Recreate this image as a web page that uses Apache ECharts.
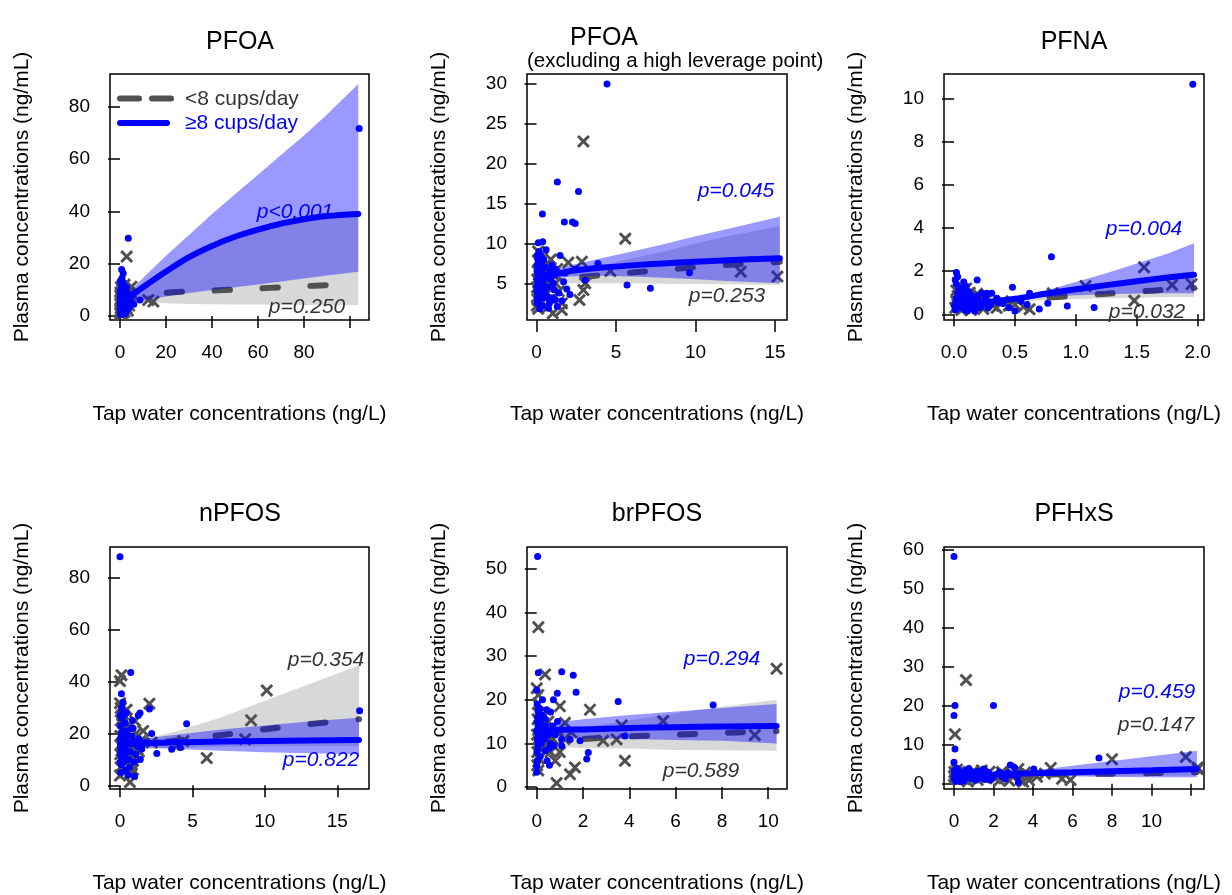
<!DOCTYPE html>
<html><head><meta charset="utf-8">
<script src="https://cdn.jsdelivr.net/npm/echarts@6/dist/echarts.min.js"></script>
<style>html,body{margin:0;padding:0;background:#fff}#c{width:1232px;height:895px}</style>
</head><body><div id="c"></div>
<script>
// ---------------- DATA ----------------
const panelTitles = ['PFOA', 'PFOA', 'PFNA', 'nPFOS', 'brPFOS', 'PFHxS'];
const subTitle2 = '(excluding a high leverage point)';
const xAxisTitle = 'Tap water concentrations (ng/L)';
const yAxisTitle = 'Plasma concentrations (ng/mL)';
const legendNames = ['<8 cups/day', '\u22658 cups/day'];
const pHigh = ['p<0.001', 'p=0.045', 'p=0.004', 'p=0.822', 'p=0.294', 'p=0.459'];
const pLow  = ['p=0.250', 'p=0.253', 'p=0.032', 'p=0.354', 'p=0.589', 'p=0.147'];

// tick values
const pfoaXTicks = [0, 20, 40, 60, 80, 100];
const pfoaXLabels = [0, 20, 40, 60, 80];
const pfoaYTicks = [0, 20, 40, 60, 80];
const pfoaExXTicks = [0, 5, 10, 15];
const pfoaExYTicks = [5, 10, 15, 20, 25, 30];
const pfnaXTicks = [0, 0.5, 1, 1.5, 2];
const pfnaYTicks = [0, 2, 4, 6, 8, 10];
const npfosXTicks = [0, 5, 10, 15];
const npfosYTicks = [0, 20, 40, 60, 80];
const brpfosXTicks = [0, 2, 4, 6, 8, 10];
const brpfosYTicks = [0, 10, 20, 30, 40, 50];
const pfhxsXTicks = [0, 2, 4, 6, 8, 10, 12];
const pfhxsXLabels = [0, 2, 4, 6, 8, 10];
const pfhxsYTicks = [0, 10, 20, 30, 40, 50, 60];

// ---- Panel 1: PFOA ----
const pfoaHigh = [[104,71.7],[3.6,29.7],[0.7,17.8],[1.4,16.3],[0.2,13.5],[1.4,12.7],[1.1,11.5],[0.5,12],[0.3,10],[1.7,10],[2.8,11],[2.6,9.5],[8.7,6.1],[6,4.5],[5,8],[0.1,2],[0.2,4],[0.3,6],[0.5,3],[0.6,8],[0.8,5],[1,1.5],[1,7],[1.2,9],[1.3,3.5],[1.5,5.5],[2,2.5],[2,6.5],[2.2,8],[2.5,4],[3,5],[3.3,7],[3.8,3],[4.2,6],[0.1,9],[0.7,1],[2.4,1],[0.4,0.5],[1.8,3],[0.9,14.5],[0.4,7.5],[1.6,8.5],
  [0.2,1.2],[0.4,2.5],[0.6,4],[0.8,6.5],[1.0,3],[1.2,5],[1.4,7.5],[1.6,2],[1.8,4.5],[2.0,5.5],[2.3,3.2],[2.6,6.8],[2.9,2.2],[3.2,4.2],[0.3,8.5],[0.5,9.5],[0.9,10.5],[1.3,11.2],[0.1,5],[0.2,7],[0.6,2],[1.1,0.8],[1.5,4.2],[2.1,7.2],[2.7,8.2],[3.5,5.5],[0.3,3.5],[0.7,5.8],[1.9,9.2]];
const pfoaLow = [[2.9,22.7],[5,11.2],[12.3,6.1],[14.5,5.5],[0.7,11.2],[0.1,1],[0.3,3],[0.5,5],[0.7,7],[0.9,2],[1.1,4],[1.3,8],[1.6,6],[1.9,1.5],[2.2,3.5],[2.6,5.5],[3,7.5],[3.4,2],[0.2,9],[0.4,11],[1,10],[4,4],[0.6,0.5],[2,12],[3.8,9],[0.1,6],[0.3,4.5],
  [0.2,2],[0.5,7.8],[0.8,3.5],[1.2,6.2],[1.5,9],[1.8,4.8],[2.4,8.5],[2.8,3],[3.2,5.8],[0.1,8],[0.9,1],[4.5,6.5]];
const pfoaCurveX   = [0.5, 2, 5, 10, 20, 30, 40, 50, 60, 70, 80, 90, 103.6];
const pfoaHighFit  = [3.5, 5.5, 7.8, 11, 17, 22.5, 26.8, 30.3, 33, 35.3, 37, 38.2, 39];
const pfoaHighUp   = [5, 7, 10, 14.5, 23, 31, 39, 46.5, 54, 61.5, 69, 77, 88.7];
const pfoaHighLo   = [3, 4, 4.8, 5.8, 7.5, 8.8, 9.9, 11, 12, 13.2, 14.3, 15.5, 16.9];
const pfoaLowFit   = [4.5, 5.8, 6.8, 7.8, 8.9, 9.4, 9.7, 10.1, 10.5, 11.0, 11.4, 11.8, 12.2];
const pfoaLowUp    = [5, 6.8, 8.5, 11, 16.6, 22, 26.3, 29.8, 32.6, 34.8, 36.5, 37.8, 38.6];
const pfoaLowLo    = [4, 4.9, 5.3, 5.4, 4.9, 4.6, 4.5, 4.4, 4.35, 4.3, 4.25, 4.2, 4.2];

// ---- Panel 2: PFOA excluding high leverage point ----
const pfoaExHigh = [[4.43,30],[1.31,17.7],[2.64,16.5],[0.37,13.7],[1.75,12.7],[2.26,12.7],[2.43,12.5],[0.11,10.1],[0.39,10.2],[1.48,8.5],[3.86,7.5],[9.62,6.34],[3.06,5.4],[5.69,4.8],[7.16,4.37],[0.75,1.87],
  [0.05,2.5],[0.1,3.5],[0.15,4.5],[0.2,5.5],[0.25,6.5],[0.3,7.5],[0.05,8.5],[0.1,6],[0.2,3],[0.3,4],[0.4,5],[0.5,6],[0.6,3.5],[0.7,4.5],[0.8,2.5],[0.9,5.5],[1.0,3.2],[1.1,4.2],[1.2,6.8],[1.4,3.8],[1.6,2.8],[1.7,5.2],[1.9,4.3],[2.1,3.6],[0.05,7.2],[0.15,9],[0.45,8],[0.6,9.2],[0.2,1.8],[0.35,2.2],[1.3,2.1],[1.8,6.3],[2.5,6.8],[0.95,7.3],
  [0.02,4],[0.03,5.5],[0.04,6.5],[0.08,4.8],[0.12,7.8],[0.18,6.2],[0.22,4],[0.28,5],[0.35,6.8],[0.42,3.2],[0.5,4.2],[0.55,7],[0.65,5.8],[0.75,3.2],[0.85,6.5],[1.05,5],[1.15,2.9],[0.02,3],[0.08,8],[0.25,8.6]];
const pfoaExLow = [[2.95,22.8],[5.58,10.6],[0.1,9.0],[2.0,7.6],[2.85,7.7],[4.64,6.55],[12.84,6.46],[15.15,5.84],[2.95,4.16],[2.7,2.9],[1.02,1.24],[1.59,1.66],[3.06,5.0],[0.1,7.8],
  [0.05,3],[0.1,4],[0.15,5],[0.2,6],[0.25,7],[0.05,5.5],[0.3,2.5],[0.4,3.5],[0.5,4.5],[0.6,5.5],[0.7,2],[0.8,6.5],[1.0,3],[1.2,5],[1.4,4],[1.6,2.5],[0.35,8.2],[0.1,1.8],[0.9,8],[1.3,6.8],
  [0.02,2.2],[0.03,4.5],[0.08,6.5],[0.45,6.2],[0.65,3.8],[1.1,6]];
const pfoaExCurveX  = [0, 0.5, 1, 2, 4, 6, 8, 10, 12, 15.3];
const pfoaExHighFit = [4.6, 5.6, 6.0, 6.5, 6.95, 7.25, 7.5, 7.72, 7.9, 8.15];
const pfoaExHighUp  = [5.3, 6.2, 6.6, 7.2, 8.1, 9.0, 9.9, 10.9, 11.8, 13.36];
const pfoaExHighLo  = [4.0, 5.1, 5.5, 5.85, 5.95, 5.85, 5.7, 5.5, 5.3, 5.0];
const pfoaExLowFit  = [4.2, 4.8, 5.2, 5.6, 6.0, 6.35, 6.7, 7.0, 7.3, 7.7];
const pfoaExLowUp   = [4.6, 5.3, 5.7, 6.3, 7.2, 8.1, 9.0, 10.0, 10.9, 12.2];
const pfoaExLowLo   = [3.8, 4.3, 4.7, 5.0, 5.0, 5.0, 4.95, 4.9, 4.87, 4.8];

// ---- Panel 3: PFNA ----
const pfnaHigh = [[1.96,10.65],[0.80,2.67],[0.48,1.25],[0.93,0.38],[1.15,0.32],[0.77,0.51],[0.62,0.97],[0.5,0.15],[0.19,1.59],[0.02,1.93],[0.03,1.74],[0.27,0.97],[0.31,0.97],[0.23,0.97],[0.35,0.74],
  [0.01,0.2],[0.02,0.4],[0.03,0.6],[0.04,0.8],[0.05,1.0],[0.06,1.2],[0.08,0.3],[0.1,0.5],[0.12,0.7],[0.14,0.9],[0.16,0.25],[0.18,0.45],[0.2,0.65],[0.22,0.35],[0.25,0.55],[0.28,0.3],[0.02,1.4],[0.07,1.1],[0.11,0.15],[0.15,0.6],[0.05,0.35],[0.09,0.85],[0.13,0.4],[0.19,0.85],[0.3,0.45],[0.4,0.5],[0.45,0.3],[0.55,0.6],[0.01,1.6],[0.08,1.5],[0.12,1.05],
  [0.01,0.5],[0.02,0.75],[0.03,1.0],[0.04,0.3],[0.06,0.55],[0.07,0.75],[0.09,0.2],[0.1,0.95],[0.12,0.35],[0.14,0.55],[0.16,0.75],[0.17,0.15],[0.2,0.3],[0.23,0.5],[0.26,0.75],[0.04,1.2],[0.1,1.3],[0.36,0.55],[0.6,0.45],[0.7,0.25]];
const pfnaLow = [[1.56,2.18],[1.08,1.31],[1.79,1.36],[1.95,1.40],[1.48,0.63],[0.81,0.97],[0.57,0.35],[0.62,0.23],[0.04,1.28],
  [0.01,0.3],[0.03,0.5],[0.05,0.7],[0.07,0.9],[0.09,0.4],[0.11,0.6],[0.13,1.0],[0.15,0.35],[0.17,0.8],[0.2,0.5],[0.24,0.25],[0.27,0.7],[0.32,0.4],[0.02,1.1],[0.06,0.2],[0.1,1.2],[0.35,0.3],[0.4,0.6],[0.5,0.45],[0.03,0.85],
  [0.02,0.6],[0.08,0.65],[0.14,0.2],[0.19,0.95],[0.22,0.75],[0.45,0.4]];
const pfnaCurveX  = [0, 0.25, 0.5, 0.75, 1.0, 1.25, 1.5, 1.75, 1.97];
const pfnaHighFit = [0.38, 0.55, 0.72, 0.95, 1.16, 1.35, 1.53, 1.70, 1.83];
const pfnaHighUp  = [0.44, 0.6, 0.8, 1.1, 1.5, 1.9, 2.35, 2.8, 3.29];
const pfnaHighLo  = [0.33, 0.5, 0.65, 0.8, 0.88, 0.93, 0.96, 0.97, 0.97];
const pfnaLowFit  = [0.45, 0.55, 0.65, 0.76, 0.86, 0.95, 1.05, 1.14, 1.22];
const pfnaLowUp   = [0.5, 0.6, 0.72, 0.88, 1.05, 1.22, 1.42, 1.62, 1.85];
const pfnaLowLo   = [0.4, 0.5, 0.59, 0.66, 0.71, 0.74, 0.77, 0.8, 0.8];

// ---- Panel 4: nPFOS ----
const npfosHigh = [[0,88.2],[0.74,43.5],[0.1,35.3],[2.03,29.4],[1.38,27.9],[1.26,26.9],[16.54,28.8],[4.6,23.8],[3.57,13.9],[4.15,14.6],[2.19,20],[2.54,12.3],
  [0.05,5],[0.1,8],[0.15,11],[0.2,14],[0.25,17],[0.3,20],[0.05,23],[0.1,26],[0.15,29],[0.2,32],[0.4,6],[0.5,10],[0.6,13],[0.7,16],[0.8,19],[0.9,22],[1.0,9],[1.1,12],[1.2,15],[1.3,18],[0.35,24],[0.45,28],[0.55,4],[0.65,7],[0.02,18],[0.03,12],[0.08,20],[1.5,14],[1.7,16.5],[0.85,25],[1.0,3.5],[1.4,10],
  [0.02,9],[0.04,14],[0.06,16],[0.09,11],[0.12,18],[0.18,21],[0.22,9],[0.28,12],[0.32,15],[0.38,18],[0.42,21],[0.5,16],[0.58,19],[0.62,10],[0.72,13],[0.78,22],[0.02,27],[0.12,30],[0.3,27],[0.95,17]];
const npfosLow = [[0.1,42.5],[0,40.2],[0,31.7],[0.05,29.8],[0.46,29.2],[1.04,24.8],[2.03,31.5],[10.13,36.6],[9.05,25.1],[8.64,17.8],[5.99,10.5],[4.03,15.8],[4.37,17.1],[0.69,1.26],[0,3.8],[0.81,4.4],[2.19,16.5],
  [0.05,7],[0.1,10],[0.15,13],[0.2,16],[0.25,19],[0.3,22],[0.05,25],[0.1,15],[0.4,9],[0.5,12],[0.6,15],[0.7,18],[0.8,8],[1.0,11],[1.2,14],[1.4,17],[1.6,21],[0.3,5],[0.9,6],[1.1,20],[0.15,27],
  [0.02,12],[0.02,19],[0.2,24],[0.55,20],[0.75,11],[1.3,13]];
const npfosCurveX  = [0, 1, 2, 4, 7, 10, 13, 16.5];
const npfosHighFit = [15.6, 16.1, 16.3, 16.6, 16.9, 17.1, 17.3, 17.5];
const npfosHighUp  = [16.8, 17.6, 18.3, 19.6, 21.5, 23.1, 24.6, 26.1];
const npfosHighLo  = [14.5, 14.7, 14.5, 14.0, 13.3, 12.8, 12.4, 12.0];
const npfosLowFit  = [14.8, 15.3, 15.9, 17.4, 19.4, 21.6, 23.6, 25.5];
const npfosLowUp   = [16.3, 17.3, 18.3, 21, 26.3, 32.6, 38.9, 46.3];
const npfosLowLo   = [13.4, 13.6, 14.0, 14.6, 14.9, 15.1, 15.2, 15.2];

// ---- Panel 5: brPFOS ----
const brpfosHigh = [[0.04,52.8],[0.07,26.2],[0,22.2],[1.08,26.4],[1.58,25.6],[1.7,21.7],[0.89,21.5],[0.72,20],[0.43,17.7],[0.6,17.2],[3.52,19.6],[7.62,18.8],[2.23,7.9],[2.16,6.4],[0.0,4.9],[0.0,3.4],[1.08,10.9],[1.44,10.9],[1.87,10.6],[0.36,8.3],[0.54,8.9],[3.81,11.7],[1.08,9.4],
  [0.02,6],[0.05,9],[0.08,12],[0.1,15],[0.12,18],[0.03,11],[0.06,14],[0.09,17],[0.2,10],[0.25,13],[0.3,16],[0.35,11],[0.4,14],[0.5,12],[0.6,10],[0.7,14],[0.8,12],[0.15,7],[0.02,19],[0.04,16],[0.45,6],[0.55,5],[0.9,15],[0.25,20],
  [0.01,8],[0.01,13],[0.03,15],[0.05,17.5],[0.07,10],[0.1,12.5],[0.14,14.5],[0.18,11.5],[0.22,16.5],[0.32,12.5],[0.38,15.5],[0.65,12.5],[0.75,9.5]];
const brpfosLow = [[0.07,36.6],[10.36,27.1],[0.36,25.8],[0.0,22.6],[0.07,21.1],[1.0,18.5],[2.3,17.7],[5.46,15.1],[3.67,14.1],[1.22,14.7],[2.87,10.6],[3.45,10.9],[9.42,11.9],[3.81,6.0],[1.65,4.5],[1.44,2.9],[0.86,0.9],[0.07,3.8],
  [0.03,8],[0.06,11],[0.09,14],[0.12,17],[0.15,10],[0.2,13],[0.3,9],[0.4,12],[0.5,15],[0.6,8],[0.7,11],[0.8,6],[0.9,13],[1.0,8],[1.2,11],[0.05,19],[0.02,5],[1.5,12.5],
  [0.01,12],[0.04,15.5],[0.1,6.5],[0.25,16],[0.45,9.5]];
const brpfosCurveX  = [0, 0.5, 1, 2, 4, 6, 8, 10.36];
const brpfosHighFit = [12.6, 12.9, 13.1, 13.2, 13.5, 13.7, 13.85, 13.96];
const brpfosHighUp  = [14.0, 14.5, 14.9, 15.5, 16.5, 17.3, 18.1, 19.0];
const brpfosHighLo  = [11.3, 11.5, 11.5, 11.2, 11.0, 10.8, 10.6, 10.0];
const brpfosLowFit  = [9.8, 10.5, 10.8, 11.0, 11.6, 12.0, 12.4, 12.8];
const brpfosLowUp   = [11.0, 11.8, 12.5, 13.6, 15.3, 16.9, 18.4, 20.0];
const brpfosLowLo   = [8.7, 9.3, 9.3, 8.9, 8.8, 8.5, 8.4, 8.3];

// ---- Panel 6: PFHxS ----
const pfhxsHigh = [[0,58.3],[0.05,20.1],[0,17.5],[2.0,20.1],[0.05,8.9],[0,5.5],[7.34,6.6],[2.85,4.8],[3.06,4.2],[4.04,3.8],[1.5,3.8],[3.26,0.3],
  [0.05,1],[0.1,2],[0.2,3],[0.3,1.5],[0.4,2.5],[0.5,0.8],[0.6,3.5],[0.7,1.8],[0.8,2.8],[0.9,1.2],[1.0,2.2],[1.2,3.2],[1.4,1.5],[1.6,2.5],[1.8,1.0],[2.0,2.0],[2.3,3.0],[2.6,1.2],[2.9,2.3],[3.2,1.8],[0.15,4],[0.25,1.2],[0.45,1.8],[0.02,3.5],[0.05,2.3],[0.35,0.6],[1.1,0.9],[0.75,3.9],[1.3,2.7],
  [0.02,1.6],[0.1,0.6],[0.15,2.6],[0.25,3.2],[0.35,2.1],[0.55,1.4],[0.65,2.4],[0.85,1.9],[0.95,3.0],[1.15,1.7],[1.35,2.3],[1.55,1.1],[1.75,2.9],[1.95,1.5],[2.2,2.5],[2.45,1.8],[2.75,2.8],[0.1,3.0],[0.4,1.1]];
const pfhxsLow = [[0.61,26.6],[0.05,12.7],[8.0,6.3],[11.74,6.9],[12.34,4.2],[12.34,3.8],[4.9,4.06],[3.26,3.8],[2.42,3.0],[5.47,1.27],[5.9,1.0],[3.5,0.5],[3.8,0.9],
  [0.05,1.5],[0.1,2.5],[0.2,1],[0.3,3],[0.4,2],[0.5,1.2],[0.6,2.8],[0.8,1.6],[1.0,3.3],[1.2,1.0],[1.5,2.2],[1.8,3.1],[2.1,1.4],[2.5,2.6],[2.8,0.8],[3.0,1.9],[3.6,2.9],[4.2,1.8],[0.15,3.6],[0.7,0.6],[0.0,2.0],
  [0.02,3.0],[0.25,2.4],[0.9,2.4],[1.4,3.4],[2.3,0.9],[3.3,2.4],[4.6,2.6]];
const pfhxsCurveX  = [0, 2, 4, 6, 8, 10, 12.3];
const pfhxsHighFit = [2.1, 2.4, 2.7, 2.95, 3.2, 3.45, 3.8];
const pfhxsHighUp  = [2.4, 2.75, 3.4, 4.6, 5.83, 7.06, 8.45];
const pfhxsHighLo  = [1.84, 2.1, 2.15, 1.9, 1.76, 1.69, 1.7];
const pfhxsLowFit  = [1.9, 2.1, 2.3, 2.45, 2.6, 2.75, 3.0];
const pfhxsLowUp   = [2.2, 2.45, 2.75, 3.1, 3.4, 3.7, 4.2];
const pfhxsLowLo   = [1.65, 1.8, 1.92, 1.94, 1.99, 2.04, 2.14];

// ---------------- LAYOUT / STYLE ----------------
const FONT = "'Liberation Sans', Arial, Helvetica, sans-serif";
const BLUE = '#0000FF';
const GREY = '#505050';
const BLUE_BAND = 'rgba(0,0,255,0.40)';
const GREY_BAND = 'rgba(195,195,195,0.65)';
const CROSS = 'path://M0,1.6L1.6,0L5,3.4L8.4,0L10,1.6L6.6,5L10,8.4L8.4,10L5,6.6L1.6,10L0,8.4L3.4,5Z';

const panels = [
  {box:[110,74,259,246], xr:[-4.35,108.26], yr:[-1.53,92.5], xt:pfoaXTicks, xl:pfoaXLabels, yt:pfoaYTicks,
   hi:pfoaHigh, lo:pfoaLow, cx:pfoaCurveX, hf:pfoaHighFit, hu:pfoaHighUp, hl:pfoaHighLo, lf:pfoaLowFit, lu:pfoaLowUp, ll:pfoaLowLo},
  {box:[527,74,260,246], xr:[-0.60,15.75], yr:[0.40,31.25], xt:pfoaExXTicks, xl:pfoaExXTicks, yt:pfoaExYTicks,
   hi:pfoaExHigh, lo:pfoaExLow, cx:pfoaExCurveX, hf:pfoaExHighFit, hu:pfoaExHighUp, hl:pfoaExHighLo, lf:pfoaExLowFit, lu:pfoaExLowUp, ll:pfoaExLowLo},
  {box:[944,74,260,246], xr:[-0.082,2.052], yr:[-0.264,11.125], xt:pfnaXTicks, xl:pfnaXTicks, yt:pfnaYTicks, xfmt:1,
   hi:pfnaHigh, lo:pfnaLow, cx:pfnaCurveX, hf:pfnaHighFit, hu:pfnaHighUp, hl:pfnaHighLo, lf:pfnaLowFit, lu:pfnaLowUp, ll:pfnaLowLo},
  {box:[110,547,259,245], xr:[-0.69,17.19], yr:[-1.41,91.92], xt:npfosXTicks, xl:npfosXTicks, yt:npfosYTicks,
   hi:npfosHigh, lo:npfosLow, cx:npfosCurveX, hf:npfosHighFit, hu:npfosHighUp, hl:npfosHighLo, lf:npfosLowFit, lu:npfosLowUp, ll:npfosLowLo},
  {box:[527,547,260,245], xr:[-0.419,10.81], yr:[-0.45,54.98], xt:brpfosXTicks, xl:brpfosXTicks, yt:brpfosYTicks,
   hi:brpfosHigh, lo:brpfosLow, cx:brpfosCurveX, hf:brpfosHighFit, hu:brpfosHighUp, hl:brpfosHighLo, lf:brpfosLowFit, lu:brpfosLowUp, ll:brpfosLowLo},
  {box:[944,547,260,245], xr:[-0.506,12.66], yr:[-1.34,60.76], xt:pfhxsXTicks, xl:pfhxsXLabels, yt:pfhxsYTicks,
   hi:pfhxsHigh, lo:pfhxsLow, cx:pfhxsCurveX, hf:pfhxsHighFit, hu:pfhxsHighUp, hl:pfhxsHighLo, lf:pfhxsLowFit, lu:pfhxsLowUp, ll:pfhxsLowLo}
];
// annotation positions (pixel centres)
const pHighPos = [[295,212],[736,191],[1144,229],[321,760],[722,659],[1157,692]];
const pLowPos  = [[307,307],[727,296],[1147,312],[326,660],[701,771],[1156,725]];

function zip(xs, ys) { return xs.map((x, i) => [x, ys[i]]); }

function band(i, xs, lo, up, color, z) {
  return {
    type: 'custom', xAxisIndex: i, yAxisIndex: i, z: z, silent: true, clip: true,
    data: [[xs[0], lo[0]]],
    renderItem: function (params, api) {
      const pts = [];
      for (let k = 0; k < xs.length; k++) pts.push(api.coord([xs[k], up[k]]));
      for (let k = xs.length - 1; k >= 0; k--) pts.push(api.coord([xs[k], lo[k]]));
      return { type: 'polygon', shape: { points: pts }, style: { fill: color } };
    }
  };
}

const grids = [], xAxes = [], yAxes = [], series = [];
panels.forEach((p, i) => {
  grids.push({ left: p.box[0], top: p.box[1], width: p.box[2], height: p.box[3],
    show: true, borderColor: '#000', borderWidth: 1.5, backgroundColor: 'transparent' });
  xAxes.push({
    gridIndex: i, type: 'value', min: p.xr[0], max: p.xr[1],
    axisLine: { show: false }, splitLine: { show: false },
    axisTick: { show: true, length: 12, lineStyle: { color: '#000', width: 1.5 }, customValues: p.xt },
    axisLabel: { customValues: p.xl, color: '#000', fontSize: 19, fontFamily: FONT, margin: 23,
      formatter: p.xfmt ? (v => Number(v).toFixed(1)) : (v => String(v)) },
    name: xAxisTitle, nameLocation: 'middle', nameGap: 84,
    nameTextStyle: { color: '#000', fontSize: 21, fontFamily: FONT }
  });
  yAxes.push({
    gridIndex: i, type: 'value', min: p.yr[0], max: p.yr[1],
    axisLine: { show: false }, splitLine: { show: false },
    axisTick: { show: true, length: 12, lineStyle: { color: '#000', width: 1.5 }, customValues: p.yt },
    axisLabel: { customValues: p.yt, color: '#000', fontSize: 19, fontFamily: FONT, margin: 20 },
    name: yAxisTitle, nameLocation: 'middle', nameGap: 77,
    nameTextStyle: { color: '#000', fontSize: 21, fontFamily: FONT }
  });
  series.push(band(i, p.cx, p.ll, p.lu, GREY_BAND, 1));
  series.push({ type: 'scatter', xAxisIndex: i, yAxisIndex: i, z: 2, silent: true, data: p.lo,
    symbol: CROSS, symbolSize: 13, itemStyle: { color: GREY, opacity: 1 } });
  series.push({ type: 'line', xAxisIndex: i, yAxisIndex: i, z: 3, silent: true, data: zip(p.cx, p.lf),
    showSymbol: false, symbol: 'none', smooth: 0.3,
    lineStyle: { color: GREY, width: 6, type: [15, 33], cap: 'round' } });
  series.push(band(i, p.cx, p.hl, p.hu, BLUE_BAND, 4));
  series.push({ type: 'scatter', xAxisIndex: i, yAxisIndex: i, z: 5, silent: true, data: p.hi,
    symbol: 'circle', symbolSize: 7, itemStyle: { color: BLUE, opacity: 1 } });
  series.push({ type: 'line', xAxisIndex: i, yAxisIndex: i, z: 6, silent: true, data: zip(p.cx, p.hf),
    showSymbol: false, symbol: 'none', smooth: 0.3,
    lineStyle: { color: BLUE, width: 6, cap: 'round' } });
});

const graphics = [];
const titleCenters = [[240,42],[604,38],[1074,42],[240,514],[657,514],[1074,514]];
panelTitles.forEach((t, i) => {
  graphics.push({ type: 'text', x: titleCenters[i][0], y: titleCenters[i][1], silent: true,
    style: { text: t, fontSize: 25, fontFamily: FONT, fill: '#000', align: 'center', verticalAlign: 'middle' } });
});
graphics.push({ type: 'text', x: 527, y: 61, silent: true,
  style: { text: subTitle2, fontSize: 20.5, fontFamily: FONT, fill: '#000', align: 'left', verticalAlign: 'middle' } });
pHigh.forEach((t, i) => {
  graphics.push({ type: 'text', x: pHighPos[i][0], y: pHighPos[i][1], silent: true, z: 100,
    style: { text: t, fontSize: 21, fontStyle: 'italic', fontFamily: FONT, fill: BLUE, align: 'center', verticalAlign: 'middle' } });
});
pLow.forEach((t, i) => {
  graphics.push({ type: 'text', x: pLowPos[i][0], y: pLowPos[i][1], silent: true, z: 100,
    style: { text: t, fontSize: 21, fontStyle: 'italic', fontFamily: FONT, fill: '#333', align: 'center', verticalAlign: 'middle' } });
});
// legend (panel 1)
graphics.push({ type: 'line', silent: true, z: 100, shape: { x1: 120, y1: 98.5, x2: 139, y2: 98.5 }, style: { stroke: GREY, lineWidth: 6, lineCap: 'round' } });
graphics.push({ type: 'line', silent: true, z: 100, shape: { x1: 152, y1: 98.5, x2: 171, y2: 98.5 }, style: { stroke: GREY, lineWidth: 6, lineCap: 'round' } });
graphics.push({ type: 'line', silent: true, z: 100, shape: { x1: 120, y1: 123, x2: 167, y2: 123 }, style: { stroke: BLUE, lineWidth: 6, lineCap: 'round' } });
graphics.push({ type: 'text', x: 185, y: 99, silent: true, z: 100,
  style: { text: legendNames[0], fontSize: 21, fontFamily: FONT, fill: '#333', align: 'left', verticalAlign: 'middle' } });
graphics.push({ type: 'text', x: 185, y: 123, silent: true, z: 100,
  style: { text: legendNames[1], fontSize: 21, fontFamily: FONT, fill: BLUE, align: 'left', verticalAlign: 'middle' } });

const chart = echarts.init(document.getElementById('c'), null, { renderer: 'canvas' });
chart.setOption({
  animation: false,
  backgroundColor: '#fff',
  grid: grids, xAxis: xAxes, yAxis: yAxes, series: series,
  graphic: graphics
});
</script></body></html>
